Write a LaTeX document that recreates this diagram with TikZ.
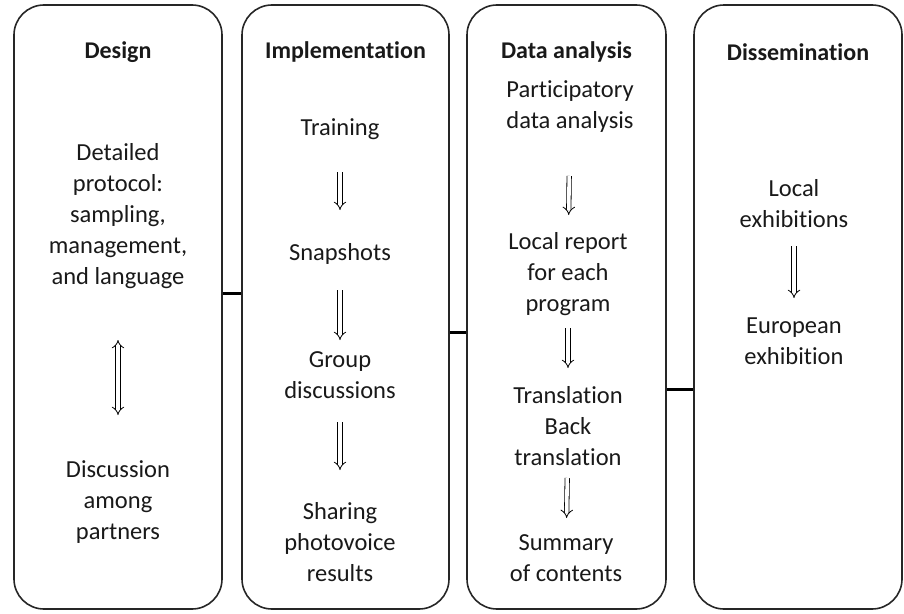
\documentclass[tikz,border=0pt]{standalone}
\usepackage{fontspec}
\setmainfont{Carlito}[Ligatures=NoCommon]
\usetikzlibrary{positioning,arrows.meta}

\begin{document}
\begin{tikzpicture}[x=1pt, y=-1pt,
    stage/.style={rectangle, draw=black!85, line width=1.6pt, rounded corners=30pt, minimum height=604pt},
    stage head/.style={font=\bfseries\fontsize{24}{28}\selectfont, text=black!90},
    stage text/.style={align=center, font=\fontsize{24.5}{31}\selectfont, text=black!90},
    step arrow/.style={double, double distance=3.6pt, line width=0.8pt, -{Implies}},
    both arrow/.style={step arrow, {Implies}-{Implies}},
    link/.style={line width=3pt}]

    \useasboundingbox (0,0) rectangle (904,613);

    % the four stages
    \node [stage, minimum width=208pt] (design) at (118,307) {};
    \node [stage, minimum width=207pt] (impl) at (345.5,307) {};
    \node [stage, minimum width=199pt] (data) at (566.5,307) {};
    \node [stage, minimum width=208pt] (diss) at (798,307) {};

    \draw [link] ([yshift=14pt]design.east) -- ([yshift=14pt]impl.west);
    \draw [link] ([yshift=-25pt]impl.east) -- ([yshift=-25pt]data.west);
    \draw [link] ([yshift=-82pt]data.east) -- ([yshift=-82pt]diss.west);

    % Design
    \node [stage head] (designhead) at (118,52) {Design};
    \node [stage text] (protocol) at (118,216) {Detailed\\protocol:\\sampling,\\management,\\and language};
    \node [stage text] (partners) at (118,502) {Discussion\\among\\partners};
    \draw [both arrow, shorten <=124pt, shorten >=87pt] (protocol.center) -- (partners.center);

    % Implementation
    \node [stage head] (implhead) at (345.5,52) {Implementation};
    \node [stage text] (training) at (340,129) {Training};
    \node [stage text] (snapshots) at (340,254) {Snapshots};
    \node [stage text] (group) at (340,375) {Group\\discussions};
    \node [stage text] (sharing) at (340,542) {Sharing\\photovoice\\results};
    \draw [step arrow, shorten <=43pt, shorten >=44pt] (training.center) -- (snapshots.center);
    \draw [step arrow, shorten <=36pt, shorten >=35pt] (snapshots.center) -- (group.center);
    \draw [step arrow, shorten <=47pt, shorten >=72pt] (group.center) -- (sharing.center);

    % Data analysis
    \node [stage head] (datahead) at (566.5,52) {Data analysis};
    \node [stage text] (participatory) at (570,107) {Participatory\\data analysis};
    \node [stage text] (report) at (568,274) {Local report\\for each\\program};
    \node [stage text] (translation) at (568,426) {Translation\\Back\\translation};
    \node [stage text] (summary) at (566,558) {Summary\\of contents};
    \draw [step arrow, shorten <=69pt, shorten >=59pt] (participatory.center) -- (report.center);
    \draw [step arrow, shorten <=54pt, shorten >=58pt] (report.center) -- (translation.center);
    \draw [step arrow, shorten <=52pt, shorten >=40pt] (translation.center) -- (summary.center);

    % Dissemination
    \node [stage head] (disshead) at (798,52) {Dissemination};
    \node [stage text] (localexh) at (794,204) {Local\\exhibitions};
    \node [stage text] (euroexh) at (794,341) {European\\exhibition};
    \draw [step arrow, shorten <=42pt, shorten >=43pt] (localexh.center) -- (euroexh.center);

\end{tikzpicture}
\end{document}
